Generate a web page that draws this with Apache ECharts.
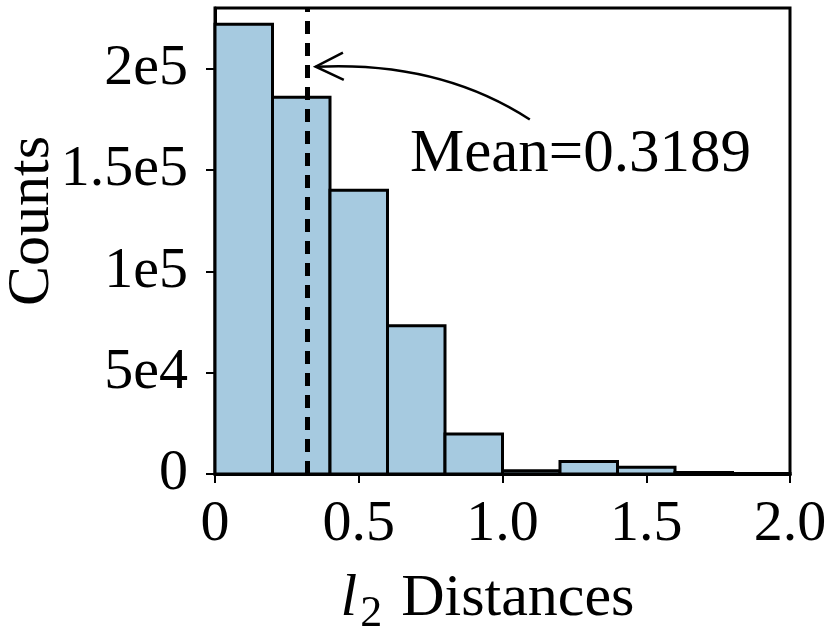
<!DOCTYPE html>
<html>
<head>
<meta charset="utf-8">
<script src="https://cdn.jsdelivr.net/npm/echarts@6/dist/echarts.min.js"></script>
<style>
  html, body { margin: 0; padding: 0; background: #fff; }
  #chart { width: 830px; height: 637px; }
</style>
</head>
<body>
<div id="chart"></div>
<script>
var binStart = [0, 0.2, 0.4, 0.6, 0.8, 1.0, 1.2, 1.4, 1.6, 1.8];
var binWidth = 0.2;
var counts = [222000, 186000, 140000, 73200, 19700, 1600, 6200, 3300, 800, 300];
var meanValue = 0.3189;
var yTicks = [0, 50000, 100000, 150000, 200000];
var yTickLabels = ['0', '5e4', '1e5', '1.5e5', '2e5'];
var xTicks = [0, 0.5, 1.0, 1.5, 2.0];
var xTickLabels = ['0', '0.5', '1.0', '1.5', '2.0'];

var font = 'Liberation Serif';
var fontSize = 58;
var barColor = '#a6cae0';

var chart = echarts.init(document.getElementById('chart'));

var histData = binStart.map(function (s, i) {
    return [s, s + binWidth, counts[i]];
});

var option = {
    backgroundColor: '#fff',
    animation: false,
    grid: {
        left: 215,
        right: 40,
        top: 8,
        bottom: 163,
        show: true,
        borderColor: '#000',
        borderWidth: 3,
        containLabel: false,
        outerBoundsMode: 'none'
    },
    xAxis: {
        type: 'value',
        min: 0,
        max: 2.0,
        interval: 0.5,
        name: '{i|l}{s|2} Distances',
        nameLocation: 'middle',
        nameGap: 88,
        nameMoveOverlap: false,
        nameTextStyle: {
            fontFamily: font,
            fontSize: 60,
            color: '#000',
            padding: [0, 30, 0, 0],
            rich: {
                i: { fontFamily: font, fontStyle: 'italic', fontSize: 60, color: '#000' },
                s: { fontFamily: font, fontSize: 44, color: '#000', padding: [30, 4, 0, 3] }
            }
        },
        axisLine: { show: true, lineStyle: { color: '#000', width: 3 } },
        axisTick: { show: true, length: 9, lineStyle: { color: '#000', width: 2 } },
        splitLine: { show: false },
        axisLabel: {
            margin: 22,
            fontFamily: font,
            fontSize: fontSize,
            color: '#000',
            formatter: function (v) {
                var i = xTicks.indexOf(+v.toFixed(2));
                return i >= 0 ? xTickLabels[i] : '';
            }
        }
    },
    yAxis: {
        type: 'value',
        min: 0,
        max: 230000,
        interval: 50000,
        name: 'Counts',
        nameLocation: 'middle',
        nameGap: 153,
        nameMoveOverlap: false,
        nameTextStyle: {
            fontFamily: font,
            fontSize: 60,
            color: '#000',
            padding: [0, 0, 0, 40]
        },
        axisLine: { show: true, lineStyle: { color: '#000', width: 3 } },
        axisTick: { show: true, length: 9, lineStyle: { color: '#000', width: 2 } },
        splitLine: { show: false },
        axisLabel: {
            margin: 27,
            fontFamily: font,
            fontSize: fontSize,
            color: '#000',
            showMaxLabel: false,
            formatter: function (v) {
                var i = yTicks.indexOf(v);
                return i >= 0 ? yTickLabels[i] : '';
            }
        }
    },
    series: [{
        type: 'custom',
        data: histData,
        encode: { x: [0, 1], y: 2 },
        renderItem: function (params, api) {
            var p0 = api.coord([api.value(0), api.value(2)]);
            var p1 = api.coord([api.value(1), 0]);
            return {
                type: 'rect',
                shape: { x: p0[0], y: p0[1], width: p1[0] - p0[0], height: p1[1] - p0[1] },
                style: { fill: barColor, stroke: '#000', lineWidth: 3 }
            };
        },
        markLine: {
            silent: true,
            symbol: ['none', 'none'],
            label: { show: false },
            lineStyle: { color: '#000', width: 5, type: [13, 9] },
            data: [{ xAxis: meanValue }]
        },
        z: 2
    }]
};

chart.setOption(option);

// annotation: text plus curved arrow pointing at the mean line
var textPos = chart.convertToPixel({ gridIndex: 0 }, [0.678, 157500]);
var tail = chart.convertToPixel({ gridIndex: 0 }, [1.095, 175000]);
var tip = chart.convertToPixel({ gridIndex: 0 }, [0.35, 201000]);
var ctrl = chart.convertToPixel({ gridIndex: 0 }, [0.78, 204000]);
var armA = chart.convertToPixel({ gridIndex: 0 }, [0.445, 208000]);
var armB = chart.convertToPixel({ gridIndex: 0 }, [0.448, 194500]);

chart.setOption({
    graphic: [{
        type: 'text',
        x: textPos[0],
        y: textPos[1],
        style: {
            text: 'Mean=0.3189',
            fontFamily: font,
            fontSize: 61,
            fill: '#000',
            verticalAlign: 'middle',
            align: 'left'
        },
        z: 10
    }, {
        type: 'bezierCurve',
        shape: { x1: tail[0], y1: tail[1], x2: tip[0], y2: tip[1], cpx1: ctrl[0], cpy1: ctrl[1] },
        style: { stroke: '#000', lineWidth: 2.5, fill: null },
        z: 10
    }, {
        type: 'polyline',
        shape: { points: [armA, tip, armB] },
        style: { stroke: '#000', lineWidth: 2.5, fill: null },
        z: 10
    }]
});
</script>
</body>
</html>
